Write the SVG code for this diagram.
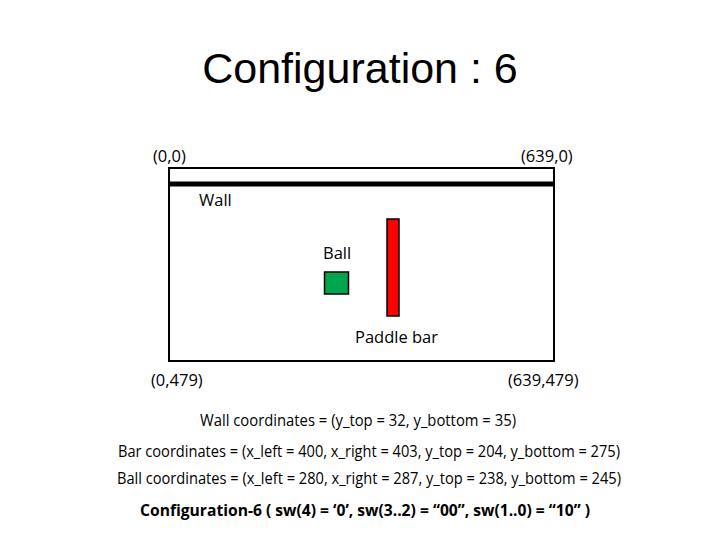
<svg xmlns="http://www.w3.org/2000/svg" width="720" height="540" viewBox="0 0 720 540">
<style>
.t{font-family:"Open Sans","Liberation Sans",sans-serif;font-size:16px;fill:#000}
.l{font-size:16.5px}
.c{text-anchor:middle}
</style>
<rect width="720" height="540" fill="#fff"/>
<text x="360" y="83" text-anchor="middle" style="font-family:'Liberation Sans',Arial,sans-serif;font-size:43px">Configuration : 6</text>
<g id="screen">
<rect x="169" y="168" width="385" height="193" fill="none" stroke="#000" stroke-width="2"/>
<text class="t l" x="153" y="162">(0,0)</text>
<text class="t l" x="521" y="162">(639,0)</text>
<text class="t l" x="151" y="386">(0,479)</text>
<text class="t l" x="508" y="386">(639,479)</text>
</g>
<g id="wall">
<line x1="168" y1="184" x2="554" y2="184" stroke="#000" stroke-width="5"/>
<text class="t l" x="199" y="206">Wall</text>
</g>
<g id="ball">
<rect x="324.5" y="272" width="24" height="22" fill="#00a550" stroke="#000" stroke-width="1.5"/>
<text class="t l" x="323" y="259">Ball</text>
</g>
<g id="paddle">
<rect x="387" y="219" width="12" height="97" fill="#f00" stroke="#000" stroke-width="1.5"/>
<text class="t l" x="355" y="343">Paddle bar</text>
</g>
<g id="connectors"/>
<g id="info">
<text class="t c" x="358" y="426" textLength="316" lengthAdjust="spacingAndGlyphs">Wall coordinates = (y_top = 32, y_bottom = 35)</text>
<text class="t c" x="369" y="457" textLength="502" lengthAdjust="spacingAndGlyphs">Bar coordinates = (x_left = 400, x_right = 403, y_top = 204, y_bottom = 275)</text>
<text class="t c" x="369" y="484" textLength="504" lengthAdjust="spacingAndGlyphs">Ball coordinates = (x_left = 280, x_right = 287, y_top = 238, y_bottom = 245)</text>
<text class="t c" x="365" y="516" font-weight="bold" font-size="17" textLength="450" lengthAdjust="spacingAndGlyphs">Configuration-6 ( sw(4) = ‘0’, sw(3..2) = “00”, sw(1..0) = “10” )</text>
</g>
</svg>
